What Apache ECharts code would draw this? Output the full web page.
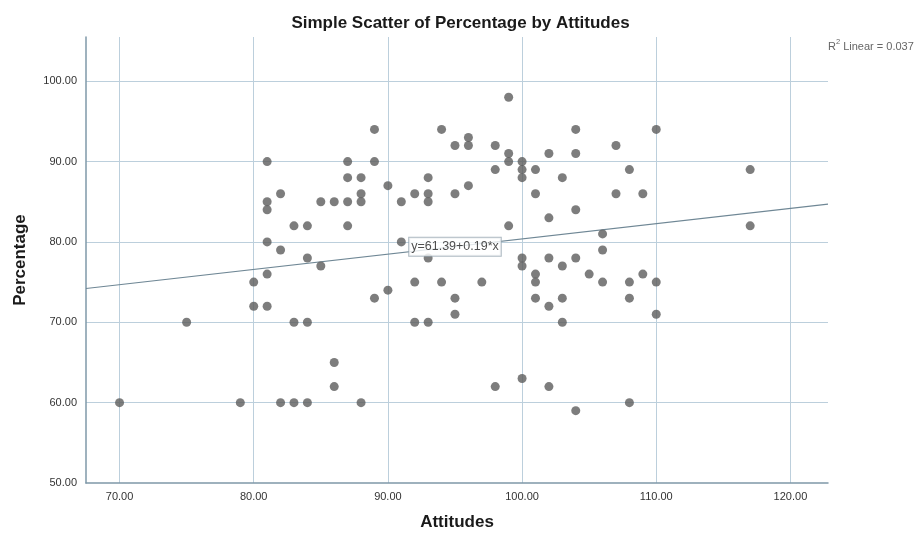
<!DOCTYPE html>
<html>
<head>
<meta charset="utf-8">
<script src="https://cdn.jsdelivr.net/npm/echarts@6/dist/echarts.min.js"></script>
<style>
  html, body { margin: 0; padding: 0; background: #fff; }
  #chart { width: 921px; height: 537px; }
</style>
</head>
<body>
<div id="chart"></div>
<script>
// Attitudes (x) and Percentage (y)
const attitudes = [
    70, 75, 79, 80, 80,
    81, 81, 81, 81, 81, 81,
    82, 82, 82, 83, 83, 83,
    84, 84, 84, 84, 85, 85,
    86, 86, 86, 87, 87, 87, 87,
    88, 88, 88, 88, 89, 89, 89,
    90, 90, 91, 91, 92, 92, 92,
    93, 93, 93, 93, 93, 94, 94,
    95, 95, 95, 95, 96, 96, 96,
    97, 98, 98, 98, 99, 99, 99, 99,
    100, 100, 100, 100, 100, 100,
    101, 101, 101, 101, 101,
    102, 102, 102, 102, 102,
    103, 103, 103, 103,
    104, 104, 104, 104, 104,
    105, 106, 106, 106, 107, 107,
    108, 108, 108, 108, 109, 109,
    110, 110, 110, 117, 117
];
const percentage = [
    60, 70, 60, 75, 72,
    90, 85, 84, 80, 76, 72,
    86, 79, 60, 82, 70, 60,
    82, 78, 70, 60, 85, 77,
    85, 65, 62, 90, 88, 85, 82,
    88, 86, 85, 60, 94, 90, 73,
    87, 74, 85, 80, 86, 75, 70,
    88, 86, 85, 78, 70, 94, 75,
    92, 86, 73, 71, 93, 92, 87,
    75, 92, 89, 62, 98, 91, 90, 82,
    90, 89, 88, 78, 77, 63,
    89, 86, 76, 75, 73,
    91, 83, 78, 72, 62,
    88, 77, 73, 70,
    94, 91, 84, 78, 59,
    76, 81, 79, 75, 92, 86,
    89, 75, 73, 60, 86, 76,
    94, 75, 71, 89, 82
];

// fit line y = 61.39 + 0.19*x, end points at the plot edges
const fitLine = [[67.5, 74.2], [122.8, 84.7]];
const fitLabel = 'y=61.39+0.19*x';
const fitLabelAt = [95, 79.4];
const rSquared = '0.037';

const points = attitudes.map((a, i) => [a, percentage[i]]);

const chart = echarts.init(document.getElementById('chart'), null, { renderer: 'canvas' });

const axisColor = '#7f98a8';
const gridColor = '#bccfdc';
const fontFamily = '"Liberation Sans", Arial, sans-serif';

const option = {
    backgroundColor: '#ffffff',
    animation: false,
    title: {
        text: 'Simple Scatter of Percentage by Attitudes',
        left: 'center',
        top: 10,
        textStyle: { fontFamily: fontFamily, fontSize: 17, fontWeight: 'bold', color: '#1a1a1a' }
    },
    grid: { left: 86, right: 93, top: 37, bottom: 54 },
    xAxis: {
        type: 'value',
        min: 67.5,
        max: 122.8,
        splitNumber: 5,
        name: 'Attitudes',
        nameLocation: 'middle',
        nameGap: 31,
        nameTextStyle: { fontFamily: fontFamily, fontSize: 17, fontWeight: 'bold', color: '#1a1a1a' },
        axisLine: { lineStyle: { color: axisColor, width: 1.5 } },
        axisTick: { show: false },
        axisLabel: {
            showMinLabel: false, showMaxLabel: false,
            margin: 8,
            fontFamily: fontFamily, fontSize: 11, color: '#333',
            formatter: v => v.toFixed(2)
        },
        splitLine: { show: true, showMinLine: false, showMaxLine: false, lineStyle: { color: gridColor, width: 1 } }
    },
    yAxis: {
        type: 'value',
        min: 50,
        max: 105.5,
        interval: 10,
        name: 'Percentage',
        nameLocation: 'middle',
        nameGap: 57,
        nameTextStyle: { fontFamily: fontFamily, fontSize: 17, fontWeight: 'bold', color: '#1a1a1a' },
        axisLine: { show: true, lineStyle: { color: axisColor, width: 1.5 } },
        axisTick: { show: false },
        axisLabel: {
            showMaxLabel: false,
            margin: 9,
            fontFamily: fontFamily, fontSize: 11, color: '#333',
            formatter: v => v.toFixed(2)
        },
        splitLine: { show: true, showMinLine: false, showMaxLine: false, lineStyle: { color: gridColor, width: 1 } }
    },
    series: [
        {
            name: 'Percentage',
            type: 'scatter',
            symbol: 'circle',
            symbolSize: 9,
            itemStyle: { color: '#5c5c5c' },
            data: points,
            z: 3
        },
        {
            name: 'Fit',
            type: 'line',
            data: fitLine,
            symbol: 'none',
            lineStyle: { color: '#6f8795', width: 1.2 },
            z: 2
        },
        {
            name: 'FitLabel',
            type: 'scatter',
            symbolSize: 0,
            data: [fitLabelAt],
            label: {
                show: true,
                position: 'inside',
                formatter: fitLabel,
                fontFamily: fontFamily,
                fontSize: 12.5,
                color: '#222',
                backgroundColor: '#fff',
                borderColor: '#9aa9b3',
                borderWidth: 1,
                padding: [3, 2, 2, 2]
            },
            z: 4
        }
    ],
    graphic: [
        {
            type: 'text',
            left: 828,
            top: 38,
            style: {
                text: '{b|R}{s|2}{b| Linear = ' + rSquared + '}',
                rich: {
                    b: { fontFamily: fontFamily, fontSize: 11, fill: '#666', verticalAlign: 'bottom' },
                    s: { fontFamily: fontFamily, fontSize: 7.5, fill: '#666', verticalAlign: 'top', padding: [0, 0, 6, 0] }
                }
            }
        }
    ]
};

chart.setOption(option);
</script>
</body>
</html>
